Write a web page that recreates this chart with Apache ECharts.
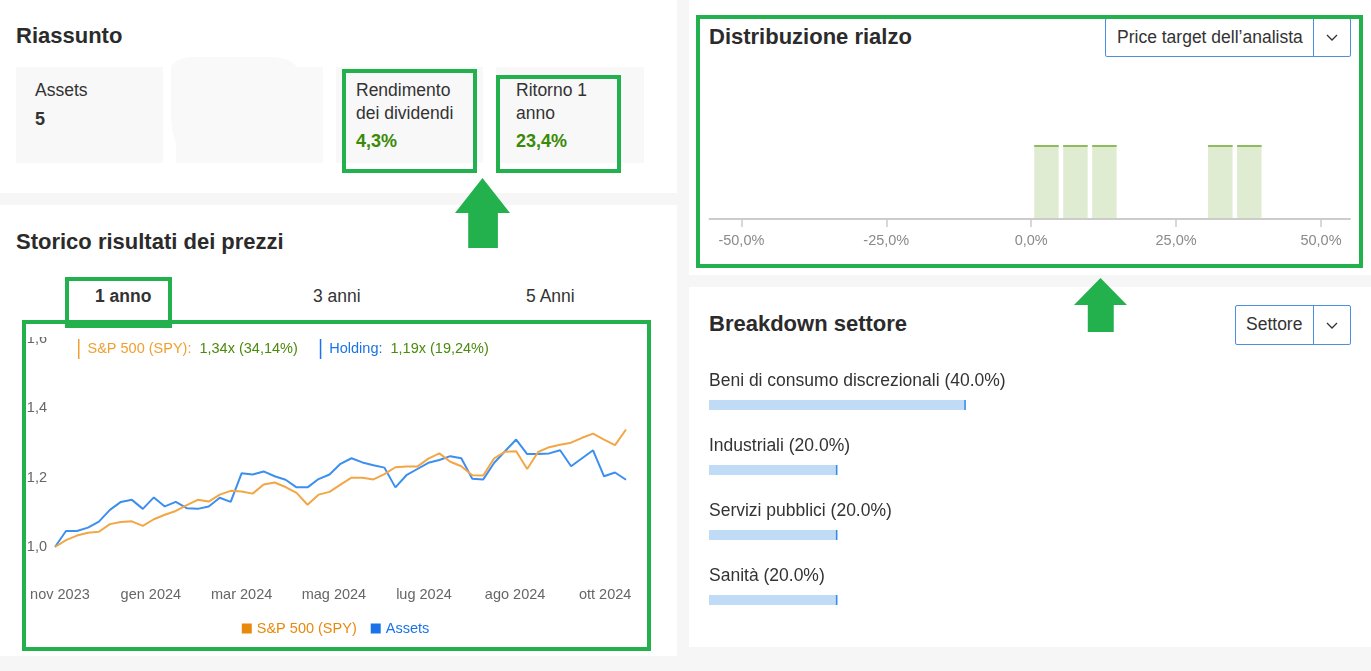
<!DOCTYPE html>
<html><head><meta charset="utf-8">
<script src="https://cdn.jsdelivr.net/npm/echarts@6/dist/echarts.min.js"></script>
<style>
html,body{margin:0;padding:0;width:1371px;height:671px;overflow:hidden;background:#f6f6f6;font-family:"Liberation Sans",Arial,sans-serif;color:#333;}
.panel{position:absolute;background:#fff;}
.h{position:absolute;font-weight:bold;font-size:22px;line-height:22px;color:#2b2b2b;white-space:nowrap;}
.card{position:absolute;background:#f8f8f8;}
.t{position:absolute;font-size:17.5px;line-height:23px;white-space:nowrap;color:#333;}
.val{position:absolute;font-size:18px;line-height:23px;font-weight:bold;white-space:nowrap;}
.green{color:#3b8a06;}
.gbox{position:absolute;border:4px solid #22b14c;box-sizing:border-box;z-index:10;}
.arrow{position:absolute;background:#22b14c;z-index:10;}
.dd{position:absolute;border:1px solid #4a8fe3;background:#fff;box-sizing:border-box;border-radius:2px;}
.dd .lab{position:absolute;font-size:17.5px;line-height:23px;color:#333;white-space:nowrap;}
.dd .div{position:absolute;top:0;bottom:0;width:1px;background:#4a8fe3;}
.dd svg{position:absolute;}
.chart{position:absolute;}
</style></head>
<body>
<div class="panel" style="left:0;top:0;width:677px;height:193px;"></div>
<div class="panel" style="left:0;top:205px;width:677px;height:451px;"></div>
<div class="panel" style="left:689px;top:0;width:682px;height:275px;"></div>
<div class="panel" style="left:689px;top:287px;width:682px;height:360px;"></div>

<div class="h" style="left:16px;top:25px;">Riassunto</div>
<div class="card" style="left:16px;top:67px;width:147px;height:96px;"></div>
<div class="card" style="left:176px;top:67px;width:147px;height:96px;background:#f9f9f9;"></div>
<div style="position:absolute;left:171px;top:57px;width:127px;height:98px;background:#f9f9f9;border-radius:22px 28px 0 18px / 12px 14px 0 40px;"></div>
<div class="card" style="left:336px;top:67px;width:147px;height:96px;"></div>
<div class="card" style="left:496px;top:67px;width:148px;height:96px;"></div>
<div class="t" style="left:35px;top:79px;">Assets</div>
<div class="val" style="left:35px;top:108px;">5</div>
<div class="t" style="left:356px;top:79px;">Rendimento<br>dei dividendi</div>
<div class="val green" style="left:356px;top:130px;">4,3%</div>
<div class="t" style="left:516px;top:79px;">Ritorno 1<br>anno</div>
<div class="val green" style="left:516px;top:130px;">23,4%</div>

<div class="h" style="left:16px;top:231px;">Storico risultati dei prezzi</div>
<div class="t" style="left:95px;top:285px;font-weight:bold;">1 anno</div>
<div class="t" style="left:313px;top:285px;">3 anni</div>
<div class="t" style="left:526px;top:285px;">5 Anni</div>

<div id="lineChart" class="chart" style="left:26px;top:337px;width:619px;height:308px;overflow:hidden;"></div>

<div class="h" style="left:709px;top:26px;">Distribuzione rialzo</div>
<div class="dd" style="left:1105px;top:18px;width:246px;height:39px;">
  <div class="lab" style="left:11px;top:7px;">Price target dell’analista</div>
  <div class="div" style="left:207px;"></div>
  <svg style="left:220px;top:15px;" width="12" height="8"><polyline points="1,1 6,6 11,1" fill="none" stroke="#333" stroke-width="1.3"/></svg>
</div>
<div id="histChart" class="chart" style="left:700px;top:60px;width:660px;height:200px;"></div>

<div class="h" style="left:709px;top:313px;">Breakdown settore</div>
<div class="dd" style="left:1235px;top:305px;width:116px;height:40px;">
  <div class="lab" style="left:10px;top:7px;">Settore</div>
  <div class="div" style="left:77px;"></div>
  <svg style="left:90px;top:16px;" width="12" height="8"><polyline points="1,1 6,6 11,1" fill="none" stroke="#333" stroke-width="1.3"/></svg>
</div>
<div id="sectorChart" class="chart" style="left:700px;top:360px;width:660px;height:280px;"></div>

<!-- annotations -->
<div class="gbox" style="left:342px;top:69px;width:135px;height:104px;"></div>
<div class="gbox" style="left:496px;top:75px;width:125px;height:98px;"></div>
<div class="arrow" style="left:455px;top:178px;width:55px;height:70px;clip-path:polygon(50% 0,100% 50%,78% 50%,78% 100%,24% 100%,24% 50%,0 50%);"></div>
<div class="gbox" style="left:65px;top:277px;width:107px;height:51px;"></div>
<div class="gbox" style="left:22px;top:320px;width:629px;height:331px;"></div>
<div class="gbox" style="left:696px;top:15px;width:667px;height:253px;"></div>
<div class="arrow" style="left:1074px;top:278px;width:53px;height:54px;clip-path:polygon(50% 0,100% 50%,75% 50%,75% 100%,26% 100%,26% 50%,0 50%);"></div>

<script>
// ---------- data ----------
const spyValues = [1.000,1.020,1.033,1.041,1.044,1.066,1.072,1.074,1.061,1.080,1.093,1.104,1.121,1.136,1.131,1.151,1.162,1.160,1.154,1.180,1.186,1.173,1.156,1.122,1.151,1.159,1.180,1.200,1.200,1.195,1.210,1.230,1.232,1.232,1.255,1.270,1.246,1.233,1.207,1.206,1.256,1.275,1.276,1.225,1.274,1.288,1.295,1.301,1.315,1.327,1.310,1.294,1.339];
const holdingValues = [1.000,1.046,1.046,1.056,1.073,1.107,1.130,1.136,1.110,1.143,1.117,1.130,1.112,1.110,1.117,1.142,1.130,1.213,1.209,1.218,1.204,1.194,1.172,1.172,1.196,1.209,1.240,1.256,1.244,1.236,1.229,1.172,1.207,1.225,1.243,1.251,1.262,1.256,1.197,1.195,1.243,1.277,1.310,1.268,1.268,1.270,1.279,1.233,1.256,1.279,1.204,1.215,1.194];
const xTickLabels = ['nov 2023','gen 2024','mar 2024','mag 2024','lug 2024','ago 2024','ott 2024'];
const xTickPositions = [0.45,8.73,17.0,25.4,33.6,41.9,50.1];
const seriesNames = ['S&P 500 (SPY)','Assets'];
const summaryLabels = ['S&P 500 (SPY):','Holding:'];
const summaryValues = ['1,34x (34,14%)','1,19x (19,24%)'];

const upsideBinStart = [0,5,10,30,35];
const upsideBinEnd = [5,10,15,35,40];
const upsideCounts = [1,1,1,1,1];
const upsideTicks = [-50,-25,0,25,50];

const sectorNames = ['Beni di consumo discrezionali','Industriali','Servizi pubblici','Sanità'];
const sectorWeights = [40.0,20.0,20.0,20.0];

const FONT = '"Liberation Sans", Arial, sans-serif';

// ---------- line chart ----------
const lc = echarts.init(document.getElementById('lineChart'), null, {renderer:'canvas'});
lc.setOption({
  animation:false,
  textStyle:{fontFamily:FONT},
  grid:{left:29,right:19,top:2,bottom:98,containLabel:false,outerBoundsMode:'none'},
  title:{
    left:52, top:2, padding:0,
    text:'{ob| }{o|'+summaryLabels[0]+'}{g1|'+summaryValues[0]+'}{bb| }{b|'+summaryLabels[1]+'}{g2|'+summaryValues[1]+'}',
    textStyle:{fontFamily:FONT,fontSize:14.5,fontWeight:'normal',rich:{
      ob:{width:1.5,height:20,backgroundColor:'#f0a030',fontSize:1},
      o:{color:'#f0a030',fontSize:14.5,fontFamily:FONT,padding:[0,0,0,8]},
      g1:{color:'#4a8a0c',fontSize:14.5,fontFamily:FONT,padding:[0,22,0,8]},
      bb:{width:1.5,height:20,backgroundColor:'#1a73e8',fontSize:1},
      b:{color:'#1a73e8',fontSize:14.5,fontFamily:FONT,padding:[0,0,0,8]},
      g2:{color:'#4a8a0c',fontSize:14.5,fontFamily:FONT,padding:[0,0,0,8]}
    }}
  },
  xAxis:{type:'value',min:0,max:spyValues.length-1,
    axisLine:{show:false},axisTick:{show:false},splitLine:{show:false},
    axisLabel:{customValues:xTickPositions,color:'#666',fontSize:14.5,fontFamily:FONT,margin:40,
      formatter:function(v){ let k=0,b=1e9; xTickPositions.forEach((p,i)=>{const d=Math.abs(p-v); if(d<b){b=d;k=i;}}); return xTickLabels[k]; }}
  },
  yAxis:{type:'value',min:1.0,max:1.6,interval:0.2,
    axisLine:{show:false},axisTick:{show:false},splitLine:{show:false},
    axisLabel:{color:'#666',fontSize:14.5,fontFamily:FONT,margin:8,formatter:v=>v.toFixed(1).replace('.',',')}
  },
  legend:{top:279,left:'center',icon:'rect',itemWidth:10,itemHeight:10,itemGap:14,
    textStyle:{fontSize:14.5,fontFamily:FONT},
    data:[{name:seriesNames[0],textStyle:{color:'#e8890c'}},{name:seriesNames[1],textStyle:{color:'#1a73e8'}}]
  },
  series:[
    {name:seriesNames[1],type:'line',showSymbol:false,data:holdingValues.map((v,i)=>[i,v]),
      lineStyle:{color:'#3d8fef',width:2},itemStyle:{color:'#1a73e8'}},
    {name:seriesNames[0],type:'line',showSymbol:false,data:spyValues.map((v,i)=>[i,v]),
      lineStyle:{color:'#f2a646',width:2},itemStyle:{color:'#e8890c'}}
  ]
});

// ---------- histogram ----------
const hc = echarts.init(document.getElementById('histChart'));
hc.setOption({
  animation:false,
  grid:{left:9.5,right:10,top:85,bottom:41,containLabel:false,outerBoundsMode:'none'},
  xAxis:{type:'value',min:-55.5,max:55,
    axisLine:{show:true,lineStyle:{color:'#cccccc',width:2}},
    axisTick:{show:true,customValues:upsideTicks,length:8,lineStyle:{color:'#cccccc',width:1.5}},
    splitLine:{show:false},
    axisLabel:{customValues:upsideTicks,color:'#8a8a8a',fontSize:14.5,fontFamily:FONT,margin:14,
      formatter:v=>v.toFixed(1).replace('.',',')+'%'}
  },
  yAxis:{type:'value',min:0,max:1,show:false},
  series:[{type:'custom',
    data:upsideBinStart.map((s,i)=>[s,upsideBinEnd[i],upsideCounts[i]]),
    renderItem:function(params,api){
      const p0=api.coord([api.value(0),0]);
      const p1=api.coord([api.value(1),api.value(2)]);
      const l=p0[0]+3, r=p1[0]-1.5, top=p1[1], bot=p0[1]-1;
      return {type:'group',children:[
        {type:'rect',shape:{x:l,y:top,width:r-l,height:bot-top},style:{fill:'#e0ecd1'}},
        {type:'rect',shape:{x:l,y:top,width:r-l,height:2},style:{fill:'#8dbb5e'}}
      ]};
    }
  }]
});

// ---------- sector breakdown ----------
const sc = echarts.init(document.getElementById('sectorChart'));
sc.setOption({
  animation:false,
  grid:{left:9,right:9,top:12.5,bottom:7.5,containLabel:false,outerBoundsMode:'none'},
  xAxis:{type:'value',min:0,max:100,show:false},
  yAxis:{type:'category',inverse:true,data:sectorNames,show:false},
  series:[
    {type:'bar',data:sectorWeights,barWidth:10,itemStyle:{color:'#bfdbf6'},
      label:{show:true,position:[0,-19],align:'left',verticalAlign:'middle',color:'#333',fontSize:17.5,fontFamily:FONT,
        formatter:p=>p.name+' ('+p.value.toFixed(1)+'%)'}},
    {type:'scatter',data:sectorWeights.map((w,i)=>[w,i]),symbol:'rect',symbolSize:[1.5,10],symbolOffset:[-0.75,0],
      itemStyle:{color:'#1a73e8'},z:5}
  ]
});
</script>
</body></html>
